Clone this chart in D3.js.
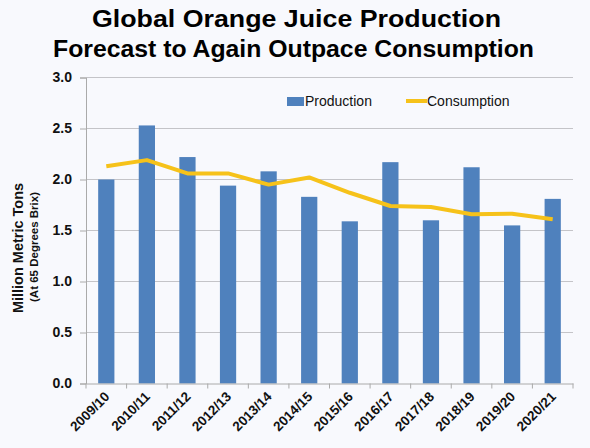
<!DOCTYPE html>
<html><head><meta charset="utf-8">
<script src="https://cdn.jsdelivr.net/npm/d3@7"></script>
<style>body{margin:0;background:#f8f9fd;}svg{display:block;}</style>
</head><body>
<svg id="c" width="590" height="448"></svg>
<script>
const categories = ["2009/10","2010/11","2011/12","2012/13","2013/14","2014/15","2015/16","2016/17","2017/18","2018/19","2019/20","2020/21"];
const production = [2.00,2.53,2.22,1.94,2.08,1.83,1.59,2.17,1.60,2.12,1.55,1.81];
const consumption = [2.13,2.19,2.06,2.06,1.95,2.02,1.87,1.74,1.73,1.66,1.665,1.61];
const yTicks = [0,0.5,1.0,1.5,2.0,2.5,3.0];
const titleLines = ["Global Orange Juice Production","Forecast to Again Outpace Consumption"];

const FONT = "Liberation Sans, Arial, sans-serif";
const svg = d3.select("#c");
svg.append("rect").attr("width",590).attr("height",448).attr("fill","#f8f9fd");
const m = {l:86, r:17, t:77.5, b:64.5};
const W = 590, H = 448;
const x = d3.scaleBand().domain(categories).range([m.l, W-m.r]).paddingInner(0.6).paddingOuter(0.3);
const xb = d3.scaleBand().domain(categories).range([m.l, W-m.r]);
const y = d3.scaleLinear().domain([0,3]).range([H-m.b, m.t]);

// grid
svg.append("g").selectAll("line").data(yTicks.slice(1)).join("line")
  .attr("x1",m.l).attr("x2",W-m.r).attr("y1",d=>y(d)).attr("y2",d=>y(d))
  .attr("stroke","#c4c4c8").attr("stroke-width",1.2);

// bars
svg.append("g").selectAll("rect").data(production).join("rect")
  .attr("x",(d,i)=>x(categories[i])).attr("width",x.bandwidth())
  .attr("y",d=>y(d)).attr("height",d=>y(0)-y(d)).attr("fill","#4f81bd");

// line
const line = d3.line().x((d,i)=>xb(categories[i])+xb.bandwidth()/2).y(d=>y(d));
svg.append("path").datum(consumption).attr("d",line).attr("fill","none")
  .attr("stroke","#f6c21a").attr("stroke-width",4).attr("stroke-linejoin","round");

// y axis
const ya = d3.axisLeft(y).tickValues(yTicks).tickFormat(d3.format(".1f")).tickSize(6).tickPadding(8);
const yg = svg.append("g").attr("transform",`translate(${m.l},0)`).call(ya);
yg.select(".domain").attr("stroke","#aaaaaa");
yg.selectAll(".tick line").attr("stroke","#aaaaaa");
yg.selectAll("text").attr("font-family",FONT).attr("font-weight","bold").attr("font-size",14).attr("fill","#111");

// x axis
const xa = d3.axisBottom(xb).tickSize(0).tickFormat("");
const xg = svg.append("g").attr("transform",`translate(0,${y(0)})`).call(xa);
xg.select(".domain").attr("stroke","#aaaaaa");
svg.append("g").selectAll("line").data(categories.concat(["end"])).join("line")
  .attr("x1",(d,i)=>m.l+i*xb.step()).attr("x2",(d,i)=>m.l+i*xb.step())
  .attr("y1",y(0)).attr("y2",y(0)+5).attr("stroke","#aaaaaa");
svg.append("g").selectAll("text").data(categories).join("text")
  .attr("transform",d=>`translate(${xb(d)+xb.bandwidth()/2+4},${y(0)+14}) rotate(-45)`)
  .attr("text-anchor","end").attr("font-family",FONT)
  .attr("font-weight","bold").attr("font-size",13.5).attr("fill","#111").text(d=>d);

// y title
svg.append("text").attr("transform",`translate(23,248) rotate(-90)`)
  .attr("text-anchor","middle").attr("font-family",FONT)
  .attr("font-weight","bold").attr("font-size",14.5).attr("fill","#111").text("Million Metric Tons");
svg.append("text").attr("transform",`translate(38,247) rotate(-90)`)
  .attr("text-anchor","middle").attr("font-family",FONT)
  .attr("font-weight","bold").attr("font-size",11.5).attr("fill","#111").text("(At 65 Degrees Brix)");

// title
const tX = [296.5, 293.5], tY = [27, 57], tLen = [409, 481];
svg.append("g").selectAll("text").data(titleLines).join("text")
  .attr("x",(d,i)=>tX[i]).attr("y",(d,i)=>tY[i]).attr("text-anchor","middle")
  .attr("textLength",(d,i)=>tLen[i]).attr("lengthAdjust","spacingAndGlyphs")
  .attr("font-family",FONT).attr("font-weight","bold")
  .attr("font-size",23.5).attr("fill","#000").text(d=>d);

// legend
const lg = svg.append("g").attr("font-family",FONT).attr("font-size",14).attr("fill","#111");
lg.append("rect").attr("x",287).attr("y",97).attr("width",17).attr("height",9).attr("fill","#4f81bd");
lg.append("text").attr("x",305).attr("y",106).text("Production");
lg.append("line").attr("x1",406).attr("x2",427).attr("y1",101).attr("y2",101).attr("stroke","#f6c21a").attr("stroke-width",4);
lg.append("text").attr("x",427).attr("y",106).text("Consumption");
</script>
</body></html>
